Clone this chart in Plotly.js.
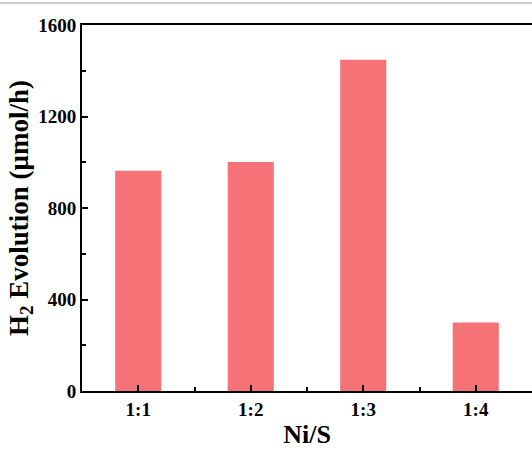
<!DOCTYPE html>
<html>
<head>
<meta charset="utf-8">
<script src="https://cdn.plot.ly/plotly-3.0.1.min.js"></script>
<style>html,body{margin:0;padding:0;background:#fff;}#chart{width:532px;height:450px;}</style>
</head>
<body>
<div id="chart"></div>
<script>
const categories = ["1:1", "1:2", "1:3", "1:4"];
const h2Evolution = [963, 1001, 1448, 300];
const yTickVals = [0, 400, 800, 1200, 1600];

const xIdx = categories.map((_, i) => i);
const minorX = categories.slice(1).map((_, i) => i + 0.5);
const fontFam = '"Liberation Serif", "Times New Roman", serif';

const trace = {
  type: 'bar',
  x: xIdx,
  y: h2Evolution,
  width: 0.41,
  marker: {color: 'rgb(245,114,118)', line: {width: 0}},
  hoverinfo: 'none'
};

const layout = {
  width: 532, height: 450,
  margin: {l: 82, r: 0, t: 25, b: 59},
  paper_bgcolor: '#ffffff',
  plot_bgcolor: '#ffffff',
  showlegend: false,
  font: {family: fontFam, color: '#000', weight: 'bold'},
  xaxis: {
    range: [-0.5, 3.5],
    tickmode: 'array',
    tickvals: xIdx,
    ticktext: categories.map(c => '<b>' + c + '</b>'),
    ticks: 'inside', ticklen: 6, tickwidth: 2, tickcolor: '#000',
    minor: {tickvals: minorX, ticks: 'inside', ticklen: 4, tickwidth: 2, tickcolor: '#000'},
    showline: true, linecolor: '#000', linewidth: 2, mirror: true,
    showgrid: false, zeroline: false,
    tickfont: {family: fontFam, size: 19, weight: 'bold'},
    title: {text: '<b>Ni/S</b>', font: {family: fontFam, size: 26, weight: 'bold'}, standoff: 6}
  },
  yaxis: {
    range: [0, 1600],
    tickmode: 'array',
    tickvals: yTickVals,
    ticktext: yTickVals.map(v => '<b>' + v + '</b>'),
    ticks: 'inside', ticklen: 6, tickwidth: 2, tickcolor: '#000',
    minor: {dtick: 200, tick0: 0, ticks: 'inside', ticklen: 4, tickwidth: 2, tickcolor: '#000'},
    showline: true, linecolor: '#000', linewidth: 2, mirror: false,
    showgrid: false, zeroline: false,
    tickfont: {family: fontFam, size: 19, weight: 'bold'},
    title: {text: '<b>H<sub>2</sub> Evolution (μmol/h)</b>', font: {family: fontFam, size: 27, weight: 'bold'}, standoff: 2}
  },
  shapes: [{
    type: 'line', xref: 'paper', yref: 'paper',
    x0: -82/450, x1: 1, y0: 1 + 22/366, y1: 1 + 22/366,
    line: {color: '#9a9a9a', width: 1}
  }]
};

Plotly.newPlot('chart', [trace], layout, {staticPlot: true, displayModeBar: false});
</script>
</body>
</html>
